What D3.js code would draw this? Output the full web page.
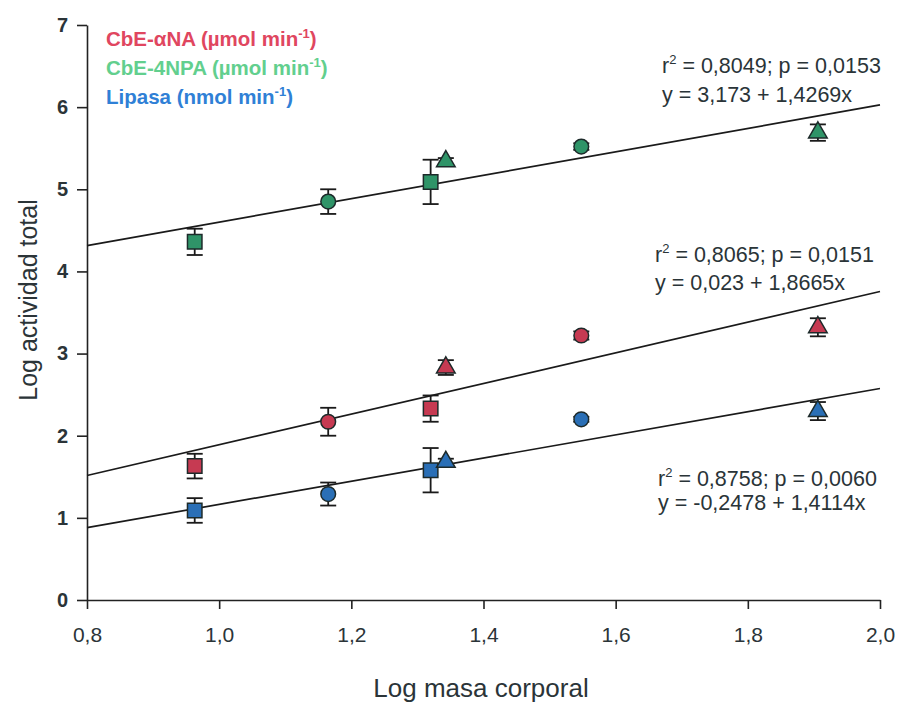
<!DOCTYPE html>
<html>
<head>
<meta charset="utf-8">
<script src="https://cdn.jsdelivr.net/npm/d3@7"></script>
<style>
  body { margin: 0; background: #fff; }
  svg { display: block; }
  .axis text { fill: #2b3438; }
  .axis path, .axis line { stroke: #222; stroke-width: 1.6; }
</style>
</head>
<body>
<script>
// Datos
var masa = [0.963, 1.165, 1.320, 1.343, 1.548, 1.906];
var simbolos = ["square", "circle", "square", "triangle", "circle", "triangle"];

var series = ["CbE-αNA", "CbE-4NPA", "Lipasa"];
var unidades = ["(µmol min", "(µmol min", "(nmol min"];

var actNA = [1.63, 2.17, 2.33, 2.83, 3.22, 3.32];
var errNA = [0.15, 0.17, 0.16, 0.09, 0.05, 0.11];
var act4NPA = [4.36, 4.85, 5.09, 5.34, 5.52, 5.69];
var err4NPA = [0.16, 0.15, 0.27, 0.04, 0.04, 0.10];
var actLip = [1.09, 1.29, 1.58, 1.68, 2.20, 2.30];
var errLip = [0.15, 0.14, 0.27, 0.04, 0.03, 0.11];

// regresiones: y = a + b x
var intercepto = [0.023, 3.173, -0.2478];
var pendiente = [1.8665, 1.4269, 1.4114];
var r2 = ["0,8065", "0,8049", "0,8758"];
var pval = ["0,0151", "0,0153", "0,0060"];
var ecuacion = ["y = 0,023 + 1,8665x", "y = 3,173 + 1,4269x", "y = -0,2478 + 1,4114x"];

var xTicks = [0.8, 1.0, 1.2, 1.4, 1.6, 1.8, 2.0];
var yTicks = [0, 1, 2, 3, 4, 5, 6, 7];

var colorMarca = ["#c63a52", "#2f9468", "#2a6fb6"];
var colorTexto = ["#e0465f", "#62cf8e", "#2f80d6"];

var valores = [actNA, act4NPA, actLip];
var errores = [errNA, err4NPA, errLip];

var width = 900, height = 706;
var svg = d3.select("body").append("svg")
    .attr("width", width)
    .attr("height", height);

var x = d3.scaleLinear().domain([0.8, 2.0]).range([87, 880]);
var y = d3.scaleLinear().domain([0, 7]).range([600, 25]);

var es = d3.formatLocale({decimal: ",", thousands: ".", grouping: [3], currency: ["", ""]});
var narrow = "'Liberation Sans Narrow', 'Arial Narrow', Arial, sans-serif";
var arial = "Arial, 'Liberation Sans', Helvetica, sans-serif";

// ejes
svg.append("g")
    .attr("class", "axis")
    .attr("transform", "translate(0," + y(0) + ")")
    .call(d3.axisBottom(x).tickValues(xTicks).tickSize(9).tickSizeOuter(0).tickFormat(es.format(".1f")))
    .selectAll("text")
      .attr("dy", "1.45em")
      .style("font-family", narrow)
      .style("font-size", "21px");

svg.append("g")
    .attr("class", "axis")
    .attr("transform", "translate(" + x(0.8) + ",0)")
    .call(d3.axisLeft(y).tickValues(yTicks).tickSize(10).tickSizeOuter(0).tickFormat(d3.format("d")))
    .selectAll("text")
      .attr("dx", "-0.3em")
      .style("font-family", arial)
      .style("font-weight", "bold")
      .style("font-size", "20px");

svg.selectAll(".axis .domain").attr("stroke", "#222");

// titulos
svg.append("text")
    .attr("x", 481).attr("y", 697)
    .attr("text-anchor", "middle")
    .style("font-family", narrow)
    .style("font-size", "26px")
    .style("fill", "#2b3438")
    .text("Log masa corporal");

svg.append("text")
    .attr("transform", "translate(37,300) rotate(-90)")
    .attr("text-anchor", "middle")
    .style("font-family", narrow)
    .style("font-size", "25px")
    .style("fill", "#2b3438")
    .text("Log actividad total");

// rectas de regresion
var linea = d3.line().x(function(d) { return x(d[0]); }).y(function(d) { return y(d[1]); });
svg.selectAll(".recta")
    .data(intercepto)
    .enter().append("path")
      .attr("class", "recta")
      .attr("d", function(a, i) {
        return linea([[0.8, a + pendiente[i] * 0.8], [2.0, a + pendiente[i] * 2.0]]);
      })
      .attr("fill", "none")
      .attr("stroke", "#1a1a1a")
      .attr("stroke-width", 1.7);

// barras de error y marcas
var tipoSimbolo = {square: d3.symbolSquare, circle: d3.symbolCircle, triangle: d3.symbolTriangle};
var tamSimbolo = {square: 210, circle: 170, triangle: 150};

valores.forEach(function(vals, s) {
  var g = svg.append("g");
  var puntos = vals.map(function(v, i) { return {x: masa[i], y: v, e: errores[s][i], sim: simbolos[i]}; });

  var eb = g.selectAll(".err").data(puntos).enter().append("g").attr("class", "err")
      .attr("stroke", "#1a1a1a").attr("stroke-width", 1.8);
  eb.append("line")
      .attr("x1", function(d) { return x(d.x); }).attr("x2", function(d) { return x(d.x); })
      .attr("y1", function(d) { return y(d.y + d.e); }).attr("y2", function(d) { return y(d.y - d.e); });
  eb.append("line")
      .attr("x1", function(d) { return x(d.x) - 8; }).attr("x2", function(d) { return x(d.x) + 8; })
      .attr("y1", function(d) { return y(d.y + d.e); }).attr("y2", function(d) { return y(d.y + d.e); });
  eb.append("line")
      .attr("x1", function(d) { return x(d.x) - 8; }).attr("x2", function(d) { return x(d.x) + 8; })
      .attr("y1", function(d) { return y(d.y - d.e); }).attr("y2", function(d) { return y(d.y - d.e); });

  g.selectAll(".marca").data(puntos).enter().append("path")
      .attr("class", "marca")
      .attr("transform", function(d) { return "translate(" + x(d.x) + "," + y(d.y) + ")"; })
      .attr("d", function(d) { return d3.symbol().type(tipoSimbolo[d.sim]).size(tamSimbolo[d.sim])(); })
      .attr("fill", colorMarca[s])
      .attr("stroke", "#1d2a2a")
      .attr("stroke-width", 1.5);
});

// leyenda
var leyenda = svg.append("g")
    .style("font-family", arial)
    .style("font-weight", "bold")
    .style("font-size", "20.5px");
series.forEach(function(nombre, i) {
  var t = leyenda.append("text")
      .attr("x", 106).attr("y", 46 + i * 29)
      .style("fill", colorTexto[i]);
  t.append("tspan").text(nombre + " " + unidades[i]);
  t.append("tspan").attr("dy", -8).style("font-size", "13px").text("-1");
  t.append("tspan").attr("dy", 8).text(")");
});

// ecuaciones
var posEc = [[655, 262, 290], [662, 73, 102], [658, 486, 510]];
posEc.forEach(function(p, i) {
  var g = svg.append("g")
      .style("font-family", arial)
      .style("font-size", "21.5px")
      .style("fill", "#2a3438");
  var t1 = g.append("text").attr("x", p[0]).attr("y", p[1]);
  t1.append("tspan").text("r");
  t1.append("tspan").attr("dy", -9).style("font-size", "13px").text("2");
  t1.append("tspan").attr("dy", 9).text(" = " + r2[i] + "; p = " + pval[i]);
  g.append("text").attr("x", p[0]).attr("y", p[2]).text(ecuacion[i]);
});
</script>
</body>
</html>
